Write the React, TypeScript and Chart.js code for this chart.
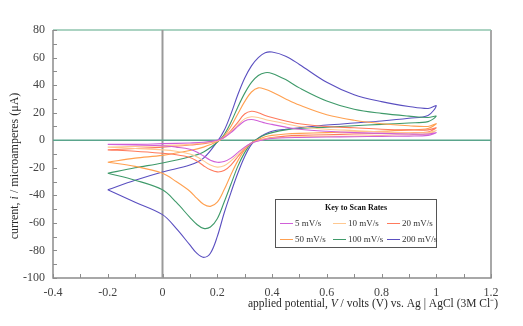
import React, { useEffect, useRef } from 'react';
import { Chart, registerables } from 'chart.js';

Chart.register(...registerables);

// Applied potential (V) along one full sweep: forward to 1.0 V, then back to -0.2 V
const potentialForward = [-0.2, -0.1, 0, 0.1, 0.15, 0.2, 0.225, 0.25, 0.275, 0.3, 0.325, 0.35, 0.375, 0.4, 0.45, 0.5, 0.6, 0.7, 0.8, 0.9, 0.97, 1.0];
const potentialReverse = [0.97, 0.9, 0.8, 0.7, 0.6, 0.5, 0.45, 0.4, 0.375, 0.35, 0.325, 0.3, 0.275, 0.25, 0.225, 0.2, 0.175, 0.15, 0.125, 0.1, 0.05, 0, -0.1, -0.2];

const scanRates = ['5 mV/s', '10 mV/s', '20 mV/s', '50 mV/s', '100 mV/s', '200 mV/s'];

// Current (µA) for each scan rate, forward then reverse
const current5 = [
  -3, -3, -2.5, -2, -1.5, 0, 2, 5.5, 10, 14, 15, 14, 12.5, 11.5, 9.5, 8, 6.5, 5.5, 5, 4.5, 4.5, 5.5,
  3.5, 3, 2.8, 2.5, 2.3, 2, 1.8, 1.2, 0.5, -0.5, -2, -5, -9, -13, -15.5, -16, -14.5, -11.5, -8.5, -6.5, -5, -4, -3.5, -3,
];
const current10 = [
  -5, -4.5, -4, -3, -2, -0.5, 2, 6, 11, 15.5, 17, 16.5, 15, 14, 12, 10, 8, 7, 6, 5.5, 5.5, 7,
  4.5, 4, 3.5, 3, 2.8, 2.5, 2.2, 1.5, 0.8, -0.3, -2, -5.5, -10.5, -15, -18.5, -19.5, -18, -15, -12, -10, -8, -7, -6, -5,
];
const current20 = [
  -7, -6, -5, -3.5, -2.5, -0.5, 2, 7, 13, 19, 21, 20, 18, 16.5, 14, 12, 10, 9, 8, 7.5, 7.5, 9,
  6, 5.5, 5, 4.5, 4, 3.5, 3, 2, 1, 0, -2, -6, -12, -18, -22, -23, -21.5, -18.5, -15, -12.5, -10.5, -9.5, -8, -7,
];
const current50 = [
  -16, -13, -11, -7.5, -5, -1, 3, 10, 19, 28, 35, 38, 37, 35, 30, 25.5, 18.5, 14.5, 12, 10.5, 10, 12,
  8.5, 7.5, 6.5, 6, 5.5, 5, 4.5, 3.5, 2.5, 0.5, -2, -7, -15, -25, -36, -45, -48, -46.5, -42, -37, -30, -24, -19, -16,
];
const current100 = [
  -24, -20, -16.5, -12, -8.5, -1.5, 4, 13, 24, 34, 42, 47, 49, 48.5, 44, 38, 28.5, 22.5, 19.5, 17.5, 16.5, 17.5,
  13.5, 12.5, 11.5, 10.5, 9.5, 8.5, 7.5, 5.5, 4, 1.5, -2, -9, -19, -32, -45, -57, -63, -64, -61, -56, -45, -36, -29, -24,
];
const current200 = [
  -36, -29, -23, -18, -13, -1, 7, 19, 33, 45, 54, 60, 63.5, 64, 61, 55, 42, 33, 28, 24.5, 23, 25,
  18, 16, 14, 12.5, 11, 9, 8, 6.5, 4.5, 1.5, -3, -12, -24, -38, -53, -70, -82, -85, -82, -76, -64, -54, -45, -36,
];

const xTicks = [-0.4, -0.2, 0, 0.2, 0.4, 0.6, 0.8, 1, 1.2];
const yTicks = [-100, -80, -60, -40, -20, 0, 20, 40, 60, 80];

const seriesCurrents = [current5, current10, current20, current50, current100, current200];
const seriesColors = ['#d060d8', '#ffc890', '#ff7a5c', '#ffa050', '#3f9a6a', '#5a4fc0'];

const SERIF = "'Liberation Serif', 'Times New Roman', serif";

function drawMixed(ctx: CanvasRenderingContext2D, parts: [string, boolean][], x: number, y: number, size: number, align: 'center' | 'right') {
  let total = 0;
  for (const [t, it] of parts) {
    ctx.font = `${it ? 'italic ' : ''}${size}px ${SERIF}`;
    total += ctx.measureText(t).width;
  }
  let cx = align === 'center' ? x - total / 2 : x - total;
  ctx.textAlign = 'left';
  ctx.textBaseline = 'middle';
  for (const [t, it] of parts) {
    ctx.font = `${it ? 'italic ' : ''}${size}px ${SERIF}`;
    ctx.fillText(t, cx, y);
    cx += ctx.measureText(t).width;
  }
}

const decorPlugin = {
  id: 'decor',
  beforeDatasetsDraw(chart: any) {
    const { ctx, chartArea: a, scales } = chart;
    const x = scales.x;
    const y = scales.y;
    ctx.save();
    ctx.strokeStyle = '#8c8c8c';
    ctx.lineWidth = 1.5;
    ctx.beginPath();
    ctx.moveTo(a.left, a.top);
    ctx.lineTo(a.left, a.bottom);
    ctx.lineTo(a.right, a.bottom);
    ctx.lineTo(a.right, a.top);
    ctx.stroke();
    ctx.strokeStyle = '#8fc4ae';
    ctx.beginPath();
    ctx.moveTo(a.left, a.top);
    ctx.lineTo(a.right, a.top);
    ctx.stroke();
    ctx.strokeStyle = '#8c8c8c';
    ctx.lineWidth = 1;
    ctx.beginPath();
    for (let v = -100; v <= 80; v += 10) {
      const py = Math.round(y.getPixelForValue(v)) + 0.5;
      ctx.moveTo(a.left, py);
      ctx.lineTo(a.left + 4, py);
    }
    for (let k = -4; k <= 12; k++) {
      const px = Math.round(x.getPixelForValue(k / 10)) + 0.5;
      ctx.moveTo(px, a.bottom);
      ctx.lineTo(px, a.bottom - 4);
    }
    ctx.stroke();
    const x0 = x.getPixelForValue(0);
    ctx.strokeStyle = '#9a9a9a';
    ctx.lineWidth = 2;
    ctx.beginPath();
    ctx.moveTo(x0, a.top);
    ctx.lineTo(x0, a.bottom);
    ctx.stroke();
    const y0 = y.getPixelForValue(0);
    ctx.strokeStyle = '#5aa58c';
    ctx.lineWidth = 1.5;
    ctx.beginPath();
    ctx.moveTo(a.left, y0);
    ctx.lineTo(a.right, y0);
    ctx.stroke();
    ctx.restore();
  },
  afterDraw(chart: any) {
    const { ctx } = chart;
    ctx.save();
    ctx.fillStyle = '#2a2a2a';
    drawMixed(ctx, [['applied potential, ', false], ['V', true], [' / volts (V) vs. Ag | AgCl (3M Cl\u207B)', false]], 498, 304, 11.5, 'right');
    ctx.translate(15, 166);
    ctx.rotate(-Math.PI / 2);
    drawMixed(ctx, [['current, ', false], ['i', true], [' / microamperes (\u03BCA)', false]], 0, 0, 12, 'center');
    ctx.restore();

    ctx.save();
    const bx = 275.5, by = 199.5, bw = 161, bh = 48;
    ctx.fillStyle = '#ffffff';
    ctx.fillRect(bx, by, bw, bh);
    ctx.strokeStyle = '#555';
    ctx.lineWidth = 1;
    ctx.strokeRect(bx, by, bw, bh);
    ctx.fillStyle = '#111';
    ctx.font = `bold 8px ${SERIF}`;
    ctx.textAlign = 'center';
    ctx.textBaseline = 'middle';
    ctx.fillText('Key to Scan Rates', 356, 208);
    const lineX = [280, 333, 387];
    const rowY = [223, 239];
    ctx.font = `9px ${SERIF}`;
    ctx.textAlign = 'left';
    chart.data.datasets.forEach((ds: any, i: number) => {
      const col = i % 3;
      const row = Math.floor(i / 3);
      const lx = lineX[col];
      const ly = rowY[row] + 0.5;
      ctx.strokeStyle = ds.borderColor;
      ctx.lineWidth = 1;
      ctx.beginPath();
      ctx.moveTo(lx, ly);
      ctx.lineTo(lx + 13, ly);
      ctx.stroke();
      ctx.fillStyle = '#333';
      ctx.fillText(ds.label, lx + 15, rowY[row] + 0.5);
    });
    ctx.restore();
  },
};

export default function App() {
  const ref = useRef<HTMLCanvasElement | null>(null);
  useEffect(() => {
    if (!ref.current) return;
    const allPotentials = [...potentialForward, ...potentialReverse];
    const datasets = scanRates.map((label, i) => ({
      label,
      data: allPotentials.map((e, k) => ({ x: e, y: seriesCurrents[i][k] })),
      borderColor: seriesColors[i],
      backgroundColor: seriesColors[i],
      borderWidth: 1.1,
      pointRadius: 0,
      showLine: true,
      tension: 0.35,
      fill: false,
    }));
    const tickFont = { family: SERIF, size: 12 };
    const chart = new Chart(ref.current, {
      type: 'scatter',
      data: { datasets },
      options: {
        animation: false,
        responsive: false,
        maintainAspectRatio: false,
        layout: { padding: { left: 0, right: 32, top: 30, bottom: 0 } },
        plugins: { legend: { display: false }, tooltip: { enabled: false } },
        scales: {
          x: {
            type: 'linear',
            min: xTicks[0],
            max: xTicks[xTicks.length - 1],
            afterFit: (s: any) => { s.height = 48; },
            afterBuildTicks: (s: any) => { s.ticks = xTicks.map((v) => ({ value: v })); },
            grid: { display: false, drawTicks: false },
            border: { display: false },
            ticks: {
              padding: 8,
              font: tickFont,
              color: '#444',
              maxRotation: 0,
              autoSkip: false,
              callback: (v: any) => String(Math.round(Number(v) * 10) / 10),
            },
          },
          y: {
            type: 'linear',
            min: yTicks[0],
            max: yTicks[yTicks.length - 1],
            afterFit: (s: any) => { s.width = 53; },
            afterBuildTicks: (s: any) => { s.ticks = yTicks.map((v) => ({ value: v })); },
            grid: { display: false, drawTicks: false },
            border: { display: false },
            ticks: {
              padding: 8,
              font: tickFont,
              color: '#444',
              autoSkip: false,
              callback: (v: any) => String(v),
            },
          },
        },
      },
      plugins: [decorPlugin],
    });
    return () => chart.destroy();
  }, []);
  return (
    <div style={{ position: 'absolute', left: 0, top: 0, width: 523, height: 326, background: '#fff' }}>
      <canvas ref={ref} width={523} height={326} style={{ width: 523, height: 326, display: 'block' }} />
    </div>
  );
}
